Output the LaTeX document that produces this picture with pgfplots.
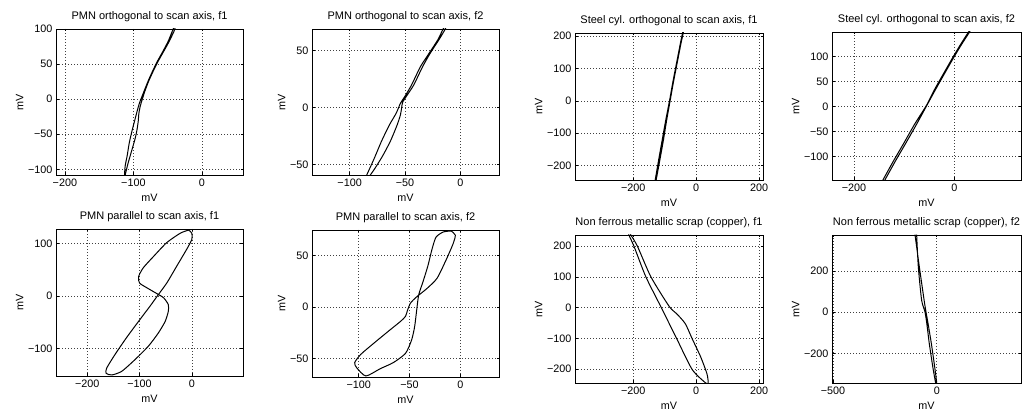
\documentclass[border=0pt]{standalone}
\usepackage{fontspec}
\setmainfont{Liberation Sans}
\usepackage{pgfplots}
\pgfplotsset{compat=1.18}
\pgfplotsset{
  curve/.style={black, line width=1pt, mark=none, smooth, tension=0.4},
  mstyle/.style={
    scale only axis,
    axis line style={black, line width=0.8pt},
    tick align=inside,
    xtick pos=both, ytick pos=both,
    xticklabel pos=lower, yticklabel pos=left,
    major tick length=2.5pt,
    tick style={black, line width=0.6pt},
    grid=major,
    major grid style={black!75, line width=0.6pt, dash pattern=on 0.8pt off 2.2pt},
    title style={font=\fontsize{11}{13}\selectfont, yshift=-2pt},
    tick label style={font=\fontsize{10.8}{12}\selectfont},
    label style={font=\fontsize{10.8}{12}\selectfont},
    xlabel={mV}, ylabel={mV},
    xlabel style={yshift=-1pt},
    ylabel style={yshift=-2pt},
    /pgf/number format/assume math mode=true,
  }
}
\begin{document}
\begin{tikzpicture}
\path[use as bounding box] (0,0) rectangle (1031pt,414pt);

% 1
\begin{axis}[mstyle, at={(56pt,239pt)}, anchor=south west, width=187pt, height=146pt,
  title={PMN orthogonal to scan axis, f1},
  xmin=-213, xmax=60, ymin=-108, ymax=100,
  xtick={-200,-100,0}, xticklabels={−200,−100,0},
  ytick={-100,-50,0,50,100}, yticklabels={−100,−50,0,50,100}]
\addplot[curve] coordinates {(-112,-108) (-108,-92) (-103,-75) (-98,-58) (-95,-45) (-93,-32) (-92,-20) (-90,-10) (-87,0) (-83,12) (-78,25) (-72,38) (-65,52) (-57,66) (-49,80) (-41,96) (-39,102)
 (-41,102) (-49,83) (-57,68) (-65,54) (-72,40) (-78,27) (-83,15) (-87,5) (-91,-5) (-94,-15) (-98,-30) (-102,-45) (-106,-62) (-109,-80) (-112,-95) (-113,-108)};
\end{axis}

% 2
\begin{axis}[mstyle, at={(312pt,239pt)}, anchor=south west, width=187pt, height=146pt,
  title={PMN orthogonal to scan axis, f2},
  xmin=-134, xmax=35, ymin=-59, ymax=69,
  xtick={-100,-50,0}, xticklabels={−100,−50,0},
  ytick={-50,0,50}, yticklabels={−50,0,50}]
\addplot[curve] coordinates {(-85,-60) (-78,-45) (-71,-29) (-64,-15) (-58,-5) (-54,4) (-50,10) (-44,20) (-36,36) (-28,48) (-20,60) (-15,70)
 (-13,70) (-19,60) (-27,48) (-34,36) (-42,20) (-48,11) (-52,5) (-53,0) (-54,-6) (-57,-15) (-63,-29) (-70,-42) (-77,-53) (-82,-60)};
\end{axis}

% 3
\begin{axis}[mstyle, at={(575pt,233.5pt)}, anchor=south west, width=188pt, height=147.5pt,
  title={Steel cyl. orthogonal to scan axis, f1},
  xmin=-385, xmax=212, ymin=-246, ymax=210,
  xtick={-200,0,200}, xticklabels={−200,0,200},
  ytick={-200,-100,0,100,200}, yticklabels={−200,−100,0,100,200}]
\addplot[curve] coordinates {(-128,-248) (-115,-180) (-104,-120) (-94,-60) (-83,0) (-72,60) (-60,120) (-49,175) (-41,212)
 (-43,212) (-51,175) (-62,120) (-74,60) (-85,0) (-97,-60) (-108,-120) (-119,-180) (-131,-248)};
\end{axis}

% 4
\begin{axis}[mstyle, at={(832pt,234pt)}, anchor=south west, width=189pt, height=148pt,
  title={Steel cyl. orthogonal to scan axis, f2},
  xmin=-244, xmax=133, ymin=-147, ymax=149,
  xtick={-200,0}, xticklabels={−200,0},
  ytick={-100,-50,0,50,100}, yticklabels={−100,−50,0,50,100}]
\addplot[curve] coordinates {(-139,-148) (-118,-110) (-96,-72) (-75,-35) (-56,0) (-38,33) (-20,65) (0,100) (15,125) (31,150)
 (29,150) (13,125) (-2,100) (-22,65) (-40,33) (-54,5) (-60,-5) (-79,-35) (-100,-72) (-122,-110) (-143,-148)};
\end{axis}

% 5
\begin{axis}[mstyle, at={(56pt,38pt)}, anchor=south west, width=187pt, height=147pt,
  title={PMN parallel to scan axis, f1},
  xmin=-260, xmax=98, ymin=-152, ymax=128,
  xtick={-200,-100,0}, xticklabels={−200,−100,0},
  ytick={-100,0,100}, yticklabels={−100,0,100}]
\addplot[curve] coordinates {(-6,126) (-22,120) (-48,102) (-73,76) (-93,54) (-102,37) (-100,25) (-86,16) (-67,5) (-54,-3) (-45,-16) (-45,-29) (-51,-48) (-64,-70) (-83,-95) (-109,-121) (-134,-143) (-153,-150) (-164,-147) (-163,-137) (-147,-111) (-125,-79) (-99,-44) (-80,-19) (-67,-1) (-48,25) (-29,57) (-10,89) (0,108) (0,120) (-6,126)};
\end{axis}

% 6
\begin{axis}[mstyle, at={(312pt,37pt)}, anchor=south west, width=187pt, height=147pt,
  title={PMN parallel to scan axis, f2},
  xmin=-146, xmax=38, ymin=-68, ymax=75,
  xtick={-100,-50,0}, xticklabels={−100,−50,0},
  ytick={-50,0,50}, yticklabels={−50,0,50}]
\addplot[curve] coordinates {(-10,74) (-17,73) (-24,68) (-28,56) (-32,40) (-37,24) (-41,12) (-43,-3) (-45,-19) (-48,-32) (-54,-45) (-66,-54) (-79,-60) (-93,-67) (-102,-59) (-104,-54) (-98,-46) (-85,-35) (-69,-22) (-59,-14) (-54,-9) (-52,-3) (-49,4) (-43,10) (-33,18) (-23,28) (-14,46) (-7,62) (-5,70) (-9,74) (-10,74)};
\end{axis}

% 7
\begin{axis}[mstyle, at={(575pt,31pt)}, anchor=south west, width=188pt, height=148pt,
  title={Non ferrous metallic scrap (copper), f1},
  xmin=-385, xmax=212, ymin=-245, ymax=236,
  xtick={-200,0,200}, xticklabels={−200,0,200},
  ytick={-200,-100,0,100,200}, yticklabels={−200,−100,0,100,200}]
\addplot[curve] coordinates {(-209,238) (-187,200) (-144,100) (-86,4) (-62,-20) (-35,-52) (-13,-101) (14,-160) (34,-215) (38,-245)
 (30,-245) (-13,-201) (-62,-101) (-111,0) (-160,100) (-198,200) (-215,238)};
\end{axis}

% 8
\begin{axis}[mstyle, at={(832pt,31pt)}, anchor=south west, width=189pt, height=148pt,
  title={Non ferrous metallic scrap (copper), f2},
  xmin=-505, xmax=406, ymin=-342, ymax=373,
  xtick={-500,0}, xticklabels={−500,0},
  ytick={-200,0,200}, yticklabels={−200,0,200}]
\addplot[curve] coordinates {(-105,375) (-84,219) (-61,58) (-52,2) (-42,-55) (-26,-152) (-10,-265) (0,-344)
 (-5,-344) (-19,-265) (-36,-152) (-48,-55) (-57,2) (-73,58) (-89,219) (-97,375)};
\end{axis}
\end{tikzpicture}
\end{document}
